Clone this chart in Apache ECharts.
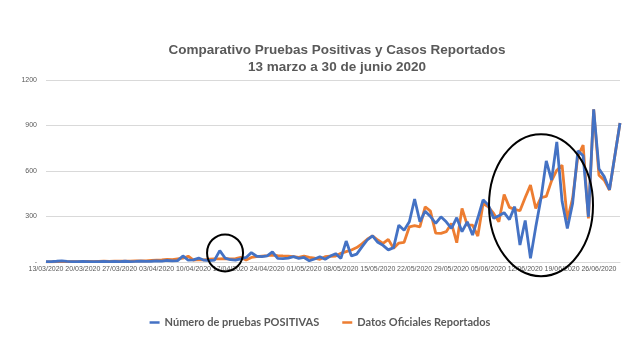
<!DOCTYPE html>
<html><head><meta charset="utf-8">
<script src="https://cdn.jsdelivr.net/npm/echarts@6/dist/echarts.min.js"></script>
<style>html,body{margin:0;padding:0;background:#fff}#c{width:640px;height:361px}</style>
</head><body><div id="c"></div>
<script>
// Dates 13/03/2020 .. 30/06/2020 (daily)
const categories = [
'13/03/2020','14/03/2020','15/03/2020','16/03/2020','17/03/2020','18/03/2020','19/03/2020',
'20/03/2020','21/03/2020','22/03/2020','23/03/2020','24/03/2020','25/03/2020','26/03/2020',
'27/03/2020','28/03/2020','29/03/2020','30/03/2020','31/03/2020','01/04/2020','02/04/2020',
'03/04/2020','04/04/2020','05/04/2020','06/04/2020','07/04/2020','08/04/2020','09/04/2020',
'10/04/2020','11/04/2020','12/04/2020','13/04/2020','14/04/2020','15/04/2020','16/04/2020',
'17/04/2020','18/04/2020','19/04/2020','20/04/2020','21/04/2020','22/04/2020','23/04/2020',
'24/04/2020','25/04/2020','26/04/2020','27/04/2020','28/04/2020','29/04/2020','30/04/2020',
'01/05/2020','02/05/2020','03/05/2020','04/05/2020','05/05/2020','06/05/2020','07/05/2020',
'08/05/2020','09/05/2020','10/05/2020','11/05/2020','12/05/2020','13/05/2020','14/05/2020',
'15/05/2020','16/05/2020','17/05/2020','18/05/2020','19/05/2020','20/05/2020','21/05/2020',
'22/05/2020','23/05/2020','24/05/2020','25/05/2020','26/05/2020','27/05/2020','28/05/2020',
'29/05/2020','30/05/2020','31/05/2020','01/06/2020','02/06/2020','03/06/2020','04/06/2020',
'05/06/2020','06/06/2020','07/06/2020','08/06/2020','09/06/2020','10/06/2020','11/06/2020',
'12/06/2020','13/06/2020','14/06/2020','15/06/2020','16/06/2020','17/06/2020','18/06/2020',
'19/06/2020','20/06/2020','21/06/2020','22/06/2020','23/06/2020','24/06/2020','25/06/2020',
'26/06/2020','27/06/2020','28/06/2020','29/06/2020','30/06/2020'];

const pruebasPositivas = [
2,3,5,8,4,3,3,4,3,2,
3,4,3,4,3,5,3,4,6,4,
5,7,6,10,8,9,40,12,14,26,
12,10,12,75,26,15,13,20,30,62,
38,35,40,66,24,22,25,35,24,30,
8,20,35,18,39,55,24,138,40,52,
100,145,172,130,110,80,95,243,210,265,
415,265,335,300,255,298,265,222,292,200,
265,178,290,410,375,288,305,325,280,365,
112,274,24,230,420,667,540,792,400,221,
386,733,700,298,1007,615,563,476,696,917];

const datosOficiales = [
1,1,2,3,2,2,3,3,4,3,
4,5,4,5,5,6,6,7,8,8,
10,12,14,18,15,20,25,38,12,15,
14,18,20,20,22,20,22,30,13,30,
35,39,42,46,42,40,39,35,30,39,
30,25,18,35,38,39,57,68,79,95,
120,150,172,145,123,149,90,125,130,232,
240,232,364,335,190,189,200,254,127,353,
243,243,171,386,364,320,265,445,360,347,
338,425,507,353,425,432,535,605,638,276,
420,698,770,287,1007,572,540,474,696,917];

const yTicks = [0,300,600,900,1200];

// Hand-drawn annotation circles: [centre category, centre value]
const annotations = [
  {cat:'16/04/2020', val:60, rx:18, ry:18.5},
  {cat:'15/06/2020', val:375, rx:52, ry:71}
];

const chart = echarts.init(document.getElementById('c'), null, {renderer:'canvas'});
chart.setOption({
  backgroundColor:'#ffffff',
  animation:false,
  title:{
    text:'Comparativo Pruebas Positivas y Casos Reportados\n13 marzo a 30 de junio 2020',
    left:332, top:37, textAlign:'center',
    textStyle:{fontFamily:'Liberation Sans, Arial, sans-serif',fontWeight:'bold',fontSize:13.5,color:'#595959',lineHeight:17}
  },
  legend:{
    bottom:28, left:'center', itemGap:23, itemWidth:10, itemHeight:2.5, icon:'rect',
    textStyle:{fontFamily:'Lato, sans-serif',fontWeight:'bold',fontSize:11,color:'#595959'},
    data:['Número de pruebas POSITIVAS','Datos Oficiales Reportados']
  },
  grid:{left:46,right:20,top:80,bottom:99,containLabel:false},
  xAxis:{
    type:'category', data:categories, boundaryGap:false,
    axisLine:{show:true,lineStyle:{color:'#D9D9D9'}},
    axisTick:{show:false},
    axisLabel:{interval:6,fontSize:7,color:'#595959',margin:4,fontFamily:'Liberation Sans, Arial, sans-serif'},
    splitLine:{show:false}
  },
  yAxis:{
    type:'value', min:yTicks[0], max:yTicks[yTicks.length-1], interval:300,
    axisLine:{show:false}, axisTick:{show:false},
    axisLabel:{fontSize:7,color:'#595959',margin:9,fontFamily:'Liberation Sans, Arial, sans-serif',
      formatter:function(v){return v===0?'-':String(v);}},
    splitLine:{lineStyle:{color:'#D9D9D9',width:1}}
  },
  series:[
    {name:'Datos Oficiales Reportados',type:'line',data:datosOficiales,showSymbol:false,symbol:'none',
     lineStyle:{color:'#ED7D31',width:2.8},itemStyle:{color:'#ED7D31'},z:2},
    {name:'Número de pruebas POSITIVAS',type:'line',data:pruebasPositivas,showSymbol:false,symbol:'none',
     lineStyle:{color:'#4472C4',width:2.8},itemStyle:{color:'#4472C4'},z:3}
  ]
});

const graphics = annotations.map(function(a){
  const p = chart.convertToPixel({gridIndex:0},[a.cat,a.val]);
  return {type:'ellipse', shape:{cx:p[0],cy:p[1],rx:a.rx,ry:a.ry},
    style:{fill:'none',stroke:'#000',lineWidth:2}, z:100};
});
chart.setOption({graphic:graphics});
</script></body></html>
